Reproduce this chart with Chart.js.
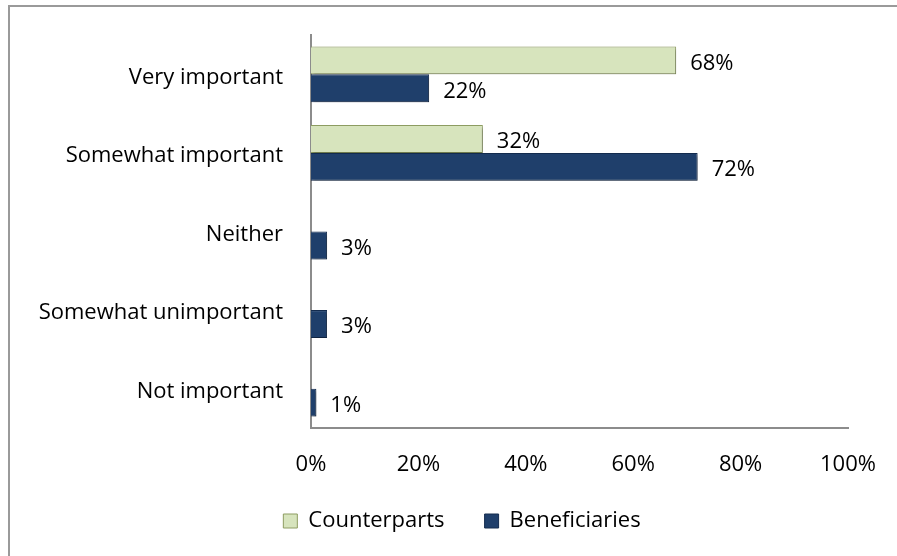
<!DOCTYPE html>
<html>
<head>
<meta charset="utf-8">
<script src="https://cdn.jsdelivr.net/npm/chart.js@4/dist/chart.umd.min.js"></script>
<style>
  html, body { margin: 0; padding: 0; background: #fff; }
  #wrap { position: relative; width: 897px; height: 556px; overflow: hidden; }
  #frame { position: absolute; left: 8px; top: 5px; width: 1000px; height: 1000px;
           border-top: 2px solid #9a9a9a; border-left: 2px solid #9a9a9a; }
  #chart { position: absolute; left: 0; top: 0; }
</style>
</head>
<body>
<div id="wrap">
  <div id="frame"></div>
  <canvas id="chart" width="897" height="556"></canvas>
</div>
<script>
// chart data
const categories = ['Very important', 'Somewhat important', 'Neither', 'Somewhat unimportant', 'Not important'];
const counterparts = [68, 32, 0, 0, 0];
const beneficiaries = [22, 72, 3, 3, 1];
const xTicks = [0, 20, 40, 60, 80, 100];

const FONT = '"Open Sans", "Noto Sans", sans-serif';
const FSIZE = 22;

// vertical bevel-ish gradient per bar
function makeFill(stops, fallback) {
  return function (context) {
    const chart = context.chart;
    const el = context.element;
    if (!chart.chartArea || !el || !isFinite(el.y) || !el.height) return fallback;
    const top = el.y - el.height / 2;
    const g = chart.ctx.createLinearGradient(0, top, 0, top + el.height);
    stops.forEach(s => g.addColorStop(s[0], s[1]));
    return g;
  };
}

const greenStops = [[0, '#f3f7e8'], [0.15, '#e2ecca'], [0.35, '#d5e3b8'], [0.85, '#d0dfb0'], [1, '#a5b874']];
const navyStops = [[0, '#6383b0'], [0.12, '#34598a'], [0.3, '#21416e'], [0.85, '#1d3b65'], [1, '#10284a']];

// bar shadow + value labels + legend nudge
const barExtras = {
  id: 'barExtras',
  afterLayout(chart) {
    const lg = chart.legend;
    lg.left += 38;
    lg.right += 38;
    lg.top -= 8;
    lg.bottom -= 8;
  },
  beforeDatasetsDraw(chart) {
    const ctx = chart.ctx;
    ctx.save();
    ctx.shadowColor = 'rgba(0,0,0,0.3)';
    ctx.shadowOffsetX = 2;
    ctx.shadowOffsetY = 2;
    ctx.shadowBlur = 3;
  },
  afterDatasetsDraw(chart) {
    const ctx = chart.ctx;
    ctx.restore();
    ctx.save();
    ctx.font = FSIZE + 'px ' + FONT;
    ctx.fillStyle = '#000';
    ctx.textBaseline = 'middle';
    ctx.textAlign = 'left';
    chart.data.datasets.forEach((ds, di) => {
      const meta = chart.getDatasetMeta(di);
      meta.data.forEach((el, i) => {
        const v = ds.data[i];
        if (!v) return;
        ctx.fillText(v + '%', el.x + 14, el.y + 3);
      });
    });
    ctx.restore();
  }
};

new Chart(document.getElementById('chart'), {
  type: 'bar',
  data: {
    labels: categories,
    datasets: [{
      label: 'Counterparts',
      data: counterparts,
      backgroundColor: makeFill(greenStops, '#d7e4bd'),
      borderColor: '#8e9d62',
      borderWidth: 1,
      borderSkipped: 'left',
      categoryPercentage: 0.71,
      barPercentage: 1
    }, {
      label: 'Beneficiaries',
      data: beneficiaries,
      backgroundColor: makeFill(navyStops, '#1f3f6b'),
      borderColor: '#142c4f',
      borderWidth: 1,
      borderSkipped: 'left',
      categoryPercentage: 0.71,
      barPercentage: 1
    }]
  },
  options: {
    indexAxis: 'y',
    responsive: false,
    animation: false,
    layout: { padding: { top: 35, right: 49, left: 0, bottom: 6 } },
    plugins: {
      legend: {
        position: 'bottom',
        labels: {
          font: { family: FONT, size: FSIZE },
          color: '#000',
          boxWidth: 14,
          boxHeight: 14,
          padding: 40,
          generateLabels(chart) {
            return chart.data.datasets.map((ds, i) => ({
              text: ds.label,
              fillStyle: i === 0 ? '#d7e4bd' : '#1f3f6b',
              strokeStyle: i === 0 ? '#8e9d62' : '#142c4f',
              lineWidth: 1,
              datasetIndex: i
            }));
          }
        }
      },
      tooltip: { enabled: false }
    },
    scales: {
      x: {
        min: 0,
        max: 100,
        afterBuildTicks(scale) { scale.ticks = xTicks.map(v => ({ value: v })); },
        afterFit(scale) { scale.height = 50; scale.paddingLeft = 0; scale.paddingRight = 0; },
        grid: { display: false, drawTicks: false },
        border: { display: true, color: '#8c8c8c', width: 2 },
        ticks: {
          padding: 24,
          color: '#000',
          font: { family: FONT, size: FSIZE },
          callback: v => v + '%'
        }
      },
      y: {
        afterFit(scale) { scale.width = 311; scale.paddingTop = 0; scale.paddingBottom = 0; },
        grid: { display: false, drawTicks: false },
        border: { display: true, color: '#8c8c8c', width: 2 },
        ticks: {
          padding: 28,
          labelOffset: 3,
          color: '#000',
          font: { family: FONT, size: FSIZE }
        }
      }
    }
  },
  plugins: [barExtras]
});
</script>
</body>
</html>
